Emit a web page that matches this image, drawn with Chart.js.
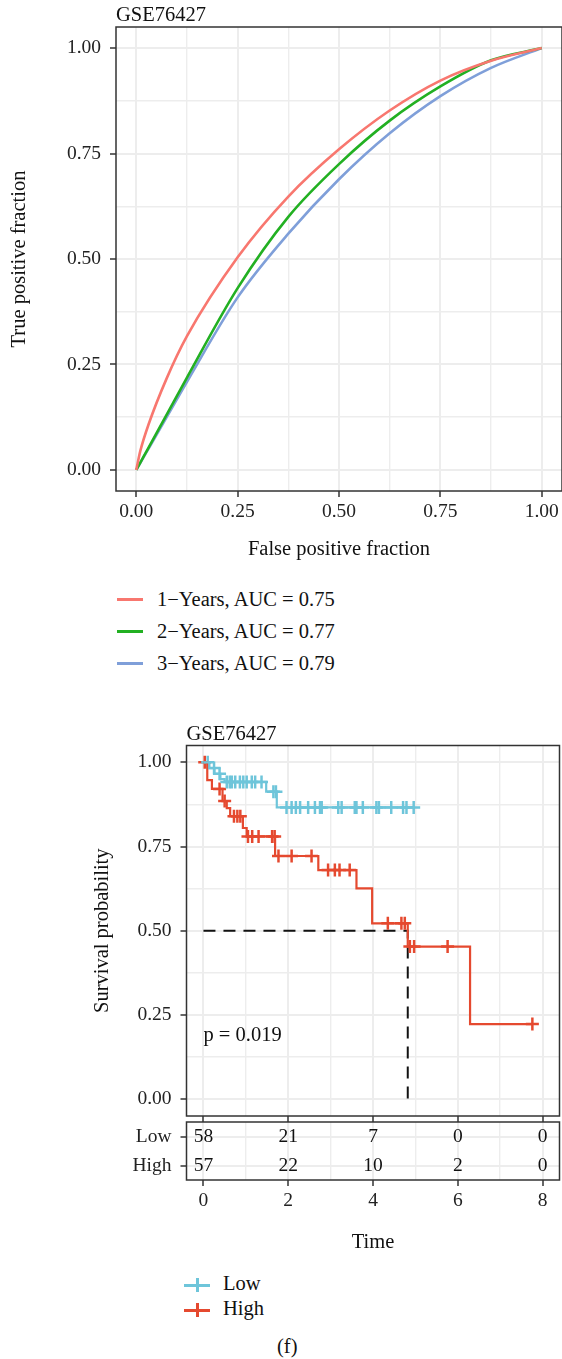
<!DOCTYPE html>
<html>
<head>
<meta charset="utf-8">
<script src="https://cdn.jsdelivr.net/npm/chart.js@4.4.1/dist/chart.umd.min.js"></script>
<style>
  body { margin: 0; background: #fff; width: 562px; height: 1359px; position: relative; overflow: hidden;
         font-family: "Liberation Serif", "Times New Roman", serif; color: #111; }
  canvas { position: absolute; left: 0; }
  .leg { position: absolute; font-size: 20.5px; line-height: 24px; white-space: nowrap; }
  .swatch { position: absolute; height: 3px; }
  .bar { position: absolute; width: 2.5px; height: 14px; }
</style>
</head>
<body>
<canvas id="roc" width="562" height="580" style="top:0"></canvas>
<div id="rocLegend"></div>
<canvas id="km" width="562" height="422" style="top:700px"></canvas>
<canvas id="risk" width="562" height="142" style="top:1118px"></canvas>
<div id="kmLegend"></div>
<div class="leg" style="left:277px;top:1334px">(f)</div>

<script>
// ROC data
const rocTitle = 'GSE76427'
const rocFpr = [0, 0.01, 0.03, 0.075, 0.125, 0.25, 0.375, 0.5, 0.625, 0.75, 0.875, 1]
const rocTpr1 = [0, 0.045, 0.107, 0.217, 0.317, 0.504, 0.648, 0.76, 0.852, 0.923, 0.97, 1]
const rocTpr2 = [0, 0.0175, 0.0525, 0.131, 0.219, 0.431, 0.6, 0.725, 0.828, 0.909, 0.971, 1]
const rocTpr3 = [0, 0.0167, 0.05, 0.125, 0.209, 0.409, 0.56, 0.689, 0.798, 0.886, 0.953, 1]
const rocLabels = ['1\u2212Years, AUC = 0.75', '2\u2212Years, AUC = 0.77', '3\u2212Years, AUC = 0.79']
const rocColors = ['#F8776F', '#22B022', '#7F9FD9']
const rocTicks = [0, 0.125, 0.25, 0.375, 0.5, 0.625, 0.75, 0.875, 1]
const rocTickLabels = ['0.00', '', '0.25', '', '0.50', '', '0.75', '', '1.00']

// Survival data
const kmTitle = 'GSE76427'
const lowTimes = [0, 0.14, 0.26, 0.4, 0.5, 1.48, 1.73, 4.98]
const lowSurv = [1, 0.983, 0.966, 0.95, 0.942, 0.913, 0.866, 0.866]
const lowCensor = [0.1, 0.25, 0.38, 0.55, 0.62, 0.67, 0.75, 0.86, 0.94, 1.02, 1.14, 1.22, 1.37, 1.65, 1.71,
  1.96, 2.08, 2.18, 2.28, 2.47, 2.63, 2.75, 2.79, 3.18, 3.26, 3.57, 3.61, 3.76, 4.08, 4.14, 4.43, 4.71, 4.79, 4.96]
const highTimes = [0, 0.09, 0.2, 0.45, 0.55, 0.63, 0.93, 1.02, 1.69, 2.71, 3.61, 3.98, 4.82, 6.29, 7.76]
const highSurv = [1, 0.947, 0.921, 0.885, 0.864, 0.84, 0.805, 0.78, 0.722, 0.68, 0.626, 0.522, 0.453, 0.223, 0.223]
const highCensor = [0.03, 0.38, 0.5, 0.72, 0.8, 0.87, 1.05, 1.15, 1.3, 1.62, 1.68, 1.77, 2.08, 2.55,
  2.94, 3.1, 3.21, 3.45, 4.35, 4.67, 4.75, 4.87, 4.97, 5.76, 7.76]
const medianTime = 4.82
const pText = 'p = 0.019'
const pTextPos = { x: 0, y: 0.19 }
const groupNames = ['Low', 'High']
const groupColors = ['#6EC5DA', '#E5492F']
const timeTicks = [0, 1, 2, 3, 4, 5, 6, 7, 8]
const timeTickLabels = ['0', '', '2', '', '4', '', '6', '', '8']
const survTicks = [0, 0.125, 0.25, 0.375, 0.5, 0.625, 0.75, 0.875, 1]
const survTickLabels = ['0.00', '', '0.25', '', '0.50', '', '0.75', '', '1.00']
const riskTimes = [0, 2, 4, 6, 8]
const lowAtRisk = [58, 21, 7, 0, 0]
const highAtRisk = [57, 22, 10, 2, 0]

const serif = '"Liberation Serif", "Times New Roman", serif'
Chart.defaults.font.family = serif
Chart.defaults.color = '#222'

// helpers
const fixedTicks = (values) => (scale) => {
  scale.ticks = values.map((v) => ({ value: v }))
}
// force an axis size and drop the label overhang chart.js reserves
const fitTo = (prop, size) => (s) => {
  s[prop] = size
  s.paddingLeft = 0
  s.paddingRight = 0
  s.paddingTop = 0
  s.paddingBottom = 0
}
const gridFor = (labels) => ({
  color: '#EDEDED',
  lineWidth: (c) => (labels[c.index] ? 2 : 1.4),
  tickColor: (c) => (labels[c.index] ? '#333' : 'rgba(0,0,0,0)'),
  tickLength: 6,
  tickWidth: 1.5,
})
const survAt = (times, surv, t) => {
  let s = surv[0]
  times.forEach((tt, i) => {
    if (tt <= t) s = surv[i]
  })
  return s
}

const panelBorder = {
  id: 'panelBorder',
  afterDraw(chart) {
    const { ctx, chartArea: a } = chart
    ctx.save()
    ctx.strokeStyle = '#333'
    ctx.lineWidth = 1.5
    ctx.strokeRect(a.left, a.top, a.right - a.left, a.bottom - a.top)
    ctx.restore()
  },
}
const panelTitle = (text) => ({
  id: 'panelTitle',
  afterDraw(chart) {
    const { ctx, chartArea: a } = chart
    ctx.save()
    ctx.font = '20.5px ' + serif
    ctx.fillStyle = '#111'
    ctx.textBaseline = 'alphabetic'
    ctx.fillText(text, a.left, a.top - 6)
    ctx.restore()
  },
})

// ROC chart
new Chart(document.getElementById('roc'), {
  type: 'scatter',
  data: {
    datasets: [rocTpr1, rocTpr2, rocTpr3].map((tpr, i) => ({
      label: rocLabels[i],
      data: rocFpr.map((f, j) => ({ x: f, y: tpr[j] })),
      showLine: true,
      borderColor: rocColors[i],
      borderWidth: 2.6,
      pointRadius: 0,
      cubicInterpolationMode: 'monotone',
    })),
  },
  options: {
    responsive: false,
    animation: false,
    layout: { autoPadding: false, padding: { top: 27, right: -2.4, bottom: 0, left: 0 } },
    plugins: { legend: { display: false }, tooltip: { enabled: false } },
    scales: {
      x: {
        type: 'linear', min: -0.05, max: 1.05,
        afterBuildTicks: fixedTicks(rocTicks),
        afterFit: fitTo('height', 89),
        ticks: { autoSkip: false, maxRotation: 0, padding: 3, font: { size: 19.5 }, callback: (v, i) => rocTickLabels[i] },
        grid: gridFor(rocTickLabels),
        border: { display: false },
        title: { display: true, text: 'False positive fraction', color: '#111', font: { size: 20.5 }, padding: { top: 0, bottom: 17.7 } },
      },
      y: {
        type: 'linear', min: -0.05, max: 1.05,
        afterBuildTicks: fixedTicks(rocTicks),
        afterFit: fitTo('width', 116),
        ticks: { autoSkip: false, padding: 9, font: { size: 19.5 }, callback: (v, i) => rocTickLabels[i] },
        grid: gridFor(rocTickLabels),
        border: { display: false },
        title: { display: true, text: 'True positive fraction', color: '#111', font: { size: 20.5 }, padding: { top: 7.7, bottom: 0 } },
      },
    },
  },
  plugins: [panelBorder, panelTitle(rocTitle)],
})

// ROC legend
const rocLegend = document.getElementById('rocLegend')
rocLabels.forEach((label, i) => {
  const cy = 599 + i * 32
  rocLegend.innerHTML +=
    `<div class="swatch" style="left:117px;width:26px;top:${cy - 1.5}px;background:${rocColors[i]}"></div>` +
    `<div class="leg" style="left:157px;top:${cy - 12}px">${label}</div>`
})

// Kaplan-Meier chart
const kmLine = (times, surv, color) => ({
  data: times.map((t, i) => ({ x: t, y: surv[i] })),
  showLine: true,
  stepped: true,
  borderColor: color,
  borderWidth: 2.2,
  borderJoinStyle: 'miter',
  pointRadius: 0,
})
const kmCensor = (censor, times, surv, color) => ({
  data: censor.map((t) => ({ x: t, y: survAt(times, surv, t) })),
  showLine: false,
  pointStyle: 'cross',
  pointRadius: 6.5,
  pointBorderWidth: 2.5,
  pointBorderColor: color,
  borderColor: color,
})

const pValueText = {
  id: 'pValueText',
  afterDatasetsDraw(chart) {
    const { ctx, scales: { x, y } } = chart
    ctx.save()
    ctx.font = '20.5px ' + serif
    ctx.fillStyle = '#111'
    ctx.textBaseline = 'middle'
    ctx.fillText(pText, x.getPixelForValue(pTextPos.x), y.getPixelForValue(pTextPos.y))
    ctx.restore()
  },
}

new Chart(document.getElementById('km'), {
  type: 'scatter',
  data: {
    datasets: [
      kmLine(lowTimes, lowSurv, groupColors[0]),
      kmLine(highTimes, highSurv, groupColors[1]),
      kmCensor(lowCensor, lowTimes, lowSurv, groupColors[0]),
      kmCensor(highCensor, highTimes, highSurv, groupColors[1]),
      {
        data: [{ x: 0, y: 0.5 }, { x: medianTime, y: 0.5 }, { x: medianTime, y: 0 }],
        showLine: true,
        borderColor: '#111',
        borderWidth: 2,
        borderDash: [12, 8],
        pointRadius: 0,
      },
    ],
  },
  options: {
    responsive: false,
    animation: false,
    layout: { autoPadding: false, padding: { top: 45.5, right: 2.5, bottom: 0, left: 0 } },
    plugins: { legend: { display: false }, tooltip: { enabled: false } },
    scales: {
      x: {
        type: 'linear', min: -0.4, max: 8.4,
        afterBuildTicks: fixedTicks(timeTicks),
        afterFit: fitTo('height', 6),
        ticks: { autoSkip: false, maxRotation: 0, callback: () => '' },
        grid: gridFor(timeTickLabels),
        border: { display: false },
      },
      y: {
        type: 'linear', min: -0.05, max: 1.05,
        afterBuildTicks: fixedTicks(survTicks),
        afterFit: fitTo('width', 186.5),
        ticks: { autoSkip: false, padding: 9, font: { size: 19.5 }, callback: (v, i) => survTickLabels[i] },
        grid: gridFor(survTickLabels),
        border: { display: false },
        title: { display: true, text: 'Survival probability', color: '#111', font: { size: 20.5 }, padding: { top: 90.7, bottom: 0 } },
      },
    },
  },
  plugins: [panelBorder, panelTitle(kmTitle), pValueText],
})

// Number-at-risk table
const riskCounts = [lowAtRisk, highAtRisk]
const riskText = {
  id: 'riskText',
  afterDatasetsDraw(chart) {
    const { ctx, scales: { x, y } } = chart
    ctx.save()
    ctx.font = '19.5px ' + serif
    ctx.fillStyle = '#111'
    ctx.textAlign = 'center'
    ctx.textBaseline = 'middle'
    riskCounts.forEach((counts, row) => {
      counts.forEach((n, i) => {
        ctx.fillText(String(n), x.getPixelForValue(riskTimes[i]), y.getPixelForValue(row))
      })
    })
    ctx.restore()
  },
}

new Chart(document.getElementById('risk'), {
  type: 'scatter',
  data: { datasets: [{ data: [] }] },
  options: {
    responsive: false,
    animation: false,
    layout: { autoPadding: false, padding: { top: 4, right: 2.5, bottom: 0, left: 0 } },
    plugins: { legend: { display: false }, tooltip: { enabled: false } },
    scales: {
      x: {
        type: 'linear', min: -0.4, max: 8.4,
        afterBuildTicks: fixedTicks(timeTicks),
        afterFit: fitTo('height', 80),
        ticks: { autoSkip: false, maxRotation: 0, padding: 3, font: { size: 19.5 }, callback: (v, i) => timeTickLabels[i] },
        grid: gridFor(timeTickLabels),
        border: { display: false },
        title: { display: true, text: 'Time', color: '#111', font: { size: 20.5 }, padding: { top: 0, bottom: 4.7 } },
      },
      y: {
        type: 'category',
        labels: groupNames,
        offset: true,
        afterFit: fitTo('width', 186.5),
        ticks: { autoSkip: false, padding: 9, font: { size: 19.5 } },
        grid: { offset: false, color: '#EDEDED', lineWidth: 2, tickColor: '#333', tickLength: 6, tickWidth: 1.5 },
        border: { display: false },
      },
    },
  },
  plugins: [panelBorder, riskText],
})

// KM legend
const kmLegend = document.getElementById('kmLegend')
groupNames.forEach((name, i) => {
  const cy = 1283 + i * 25
  kmLegend.innerHTML +=
    `<div class="swatch" style="left:184px;width:26px;top:${cy + 1}px;background:${groupColors[i]}"></div>` +
    `<div class="bar" style="left:196px;top:${cy - 5}px;background:${groupColors[i]}"></div>` +
    `<div class="leg" style="left:223px;top:${cy - 12}px">${name}</div>`
})
</script>
</body>
</html>
